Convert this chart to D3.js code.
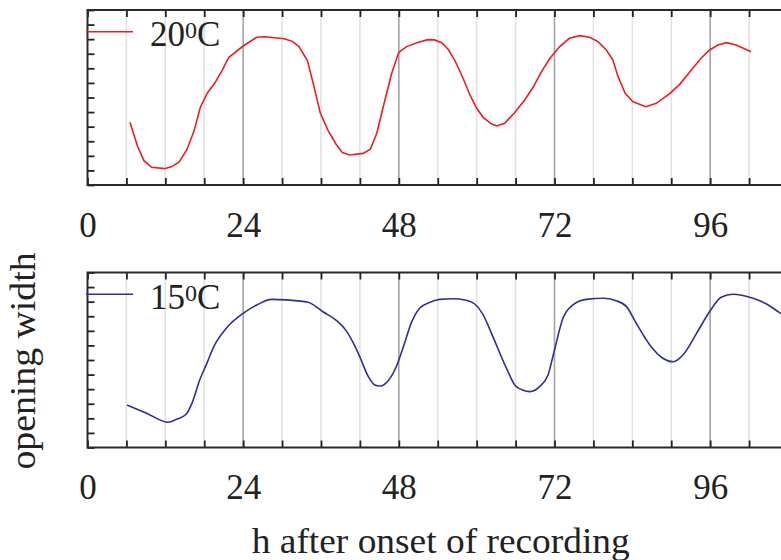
<!DOCTYPE html>
<html>
<head>
<meta charset="utf-8">
<script src="https://cdn.jsdelivr.net/npm/d3@7"></script>
<style>
  body { margin: 0; background: #fff; }
  svg { display: block; font-family: "Liberation Serif", "DejaVu Serif", serif; }
</style>
</head>
<body>
<div id="chart"></div>
<script>
// hours after onset of recording, opening width (arbitrary units, 0..12)
const hours20 = [6.55, 7.7, 8.7, 9.9, 11.9, 13.0, 14.1, 15.3, 16.4, 17.4, 18.5, 19.6, 20.8, 21.8, 24.0, 26.1, 27.3, 30.3, 31.6, 32.6, 33.9, 34.8, 35.9, 37.1, 38.3, 39.3, 40.4, 42.5, 43.6, 44.6, 45.6, 46.9, 48.0, 49.2, 51.0, 52.5, 53.5, 54.6, 55.6, 56.6, 57.9, 58.9, 60.0, 61.0, 62.3, 63.1, 64.3, 65.9, 67.4, 68.7, 70.0, 71.3, 72.8, 74.3, 75.9, 77.4, 78.7, 80.0, 81.0, 81.8, 82.9, 84.1, 86.1, 87.7, 89.8, 91.3, 93.1, 94.6, 95.9, 97.2, 98.5, 100.0, 102.3]
const width20 = [4.3, 2.67, 1.67, 1.21, 1.12, 1.26, 1.56, 2.4, 3.66, 5.33, 6.33, 6.97, 7.89, 8.76, 9.53, 10.13, 10.17, 10.03, 9.85, 9.49, 8.53, 6.97, 4.92, 3.73, 2.81, 2.22, 2.06, 2.17, 2.45, 3.55, 5.37, 7.66, 9.1, 9.49, 9.79, 9.97, 9.95, 9.76, 9.31, 8.57, 7.32, 6.24, 5.26, 4.64, 4.18, 4.05, 4.23, 4.99, 5.83, 6.7, 7.77, 8.69, 9.49, 10.06, 10.24, 10.13, 9.83, 9.26, 8.57, 7.43, 6.29, 5.71, 5.37, 5.6, 6.29, 6.9, 7.89, 8.69, 9.26, 9.6, 9.76, 9.6, 9.14]

const hours15 = [6.1, 9.1, 12.45, 13.7, 15.2, 16.1, 17.3, 18.4, 19.6, 21.4, 24.0, 26.1, 28.4, 30.7, 34.0, 36.3, 38.4, 39.9, 41.0, 42.0, 43.3, 44.3, 45.1, 46.35, 47.6, 48.7, 50.0, 51.2, 52.8, 54.3, 56.4, 58.2, 59.7, 61.0, 62.5, 64.6, 66.1, 68.2, 69.7, 71.0, 72.0, 73.3, 74.8, 76.9, 79.5, 81.5, 83.1, 84.6, 86.7, 88.7, 90.3, 91.8, 93.9, 95.9, 97.7, 99.5, 102.6, 104.7, 106.7, 108]
const width15 = [2.91, 2.35, 1.73, 1.93, 2.28, 3.03, 4.63, 5.77, 7.03, 8.18, 9.2, 9.77, 10.16, 10.12, 9.96, 9.31, 8.7, 8.0, 7.15, 6.2, 4.86, 4.29, 4.22, 4.58, 5.54, 6.91, 8.63, 9.55, 9.96, 10.16, 10.2, 10.12, 9.84, 9.09, 7.6, 5.43, 4.17, 3.83, 4.17, 4.97, 6.69, 8.86, 9.77, 10.16, 10.23, 10.07, 9.66, 8.52, 7.03, 6.12, 5.88, 6.34, 7.83, 9.31, 10.3, 10.51, 10.23, 9.84, 9.25, 8.9]

const xTickLabels = [0, 24, 48, 72, 96]
const gridHours = d3.range(6, 108, 6)

const W = 781, H = 560
const left = 87.5, right = 788
const panelH = 175

let svg = d3.select('#chart').append('svg')
    .attr('width', W)
    .attr('height', H)

let x = d3.scaleLinear().domain([0, 108]).range([left, right])

let panels = [
    { top: 10, hours: hours20, vals: width20, color: '#ed1c24', label: '20', curve: d3.curveLinear },
    { top: 272.5, hours: hours15, vals: width15, color: '#2e3192', label: '15', curve: d3.curveMonotoneX }
]

panels.forEach((p, i) => {
    let bottom = p.top + panelH
    let y = d3.scaleLinear().domain([0, 12]).range([bottom, p.top])

    let g = svg.append('g').attr('class', 'panel' + i)

    // clip so nothing leaks outside the frame
    g.append('clipPath').attr('id', 'clip' + i)
        .append('rect')
        .attr('x', left).attr('y', p.top)
        .attr('width', right - left).attr('height', panelH)

    // vertical grid, darker every 24h
    g.append('g').selectAll('line')
        .data(gridHours)
        .enter()
        .append('line')
        .attr('x1', d => x(d)).attr('x2', d => x(d))
        .attr('y1', p.top).attr('y2', bottom)
        .attr('stroke', d => d % 24 === 0 ? '#a4a4a8' : '#e2e2e2')
        .attr('stroke-width', 1.6)

    let line = d3.line()
        .x((d, k) => x(p.hours[k]))
        .y(d => y(d))
        .curve(p.curve)

    g.append('path')
        .datum(p.vals)
        .attr('clip-path', `url(#clip${i})`)
        .attr('d', line)
        .attr('fill', 'none')
        .attr('stroke', p.color)
        .attr('stroke-width', 1.6)

    // inward ticks on all 4 sides
    let tickStyle = sel => {
        sel.select('.domain').remove()
        sel.selectAll('.tick line').attr('stroke', '#222').attr('stroke-width', 1.8)
    }
    g.append('g').attr('transform', `translate(0,${bottom})`)
        .call(d3.axisBottom(x).tickValues(d3.range(0, 109, 6)).tickSize(-7).tickFormat(''))
        .call(tickStyle)
    g.append('g').attr('transform', `translate(0,${p.top})`)
        .call(d3.axisTop(x).tickValues(d3.range(0, 109, 6)).tickSize(-7).tickFormat(''))
        .call(tickStyle)
    g.append('g').attr('transform', `translate(${left},0)`)
        .call(d3.axisLeft(y).ticks(12).tickSize(-7).tickFormat(''))
        .call(tickStyle)
    g.append('g').attr('transform', `translate(${right},0)`)
        .call(d3.axisRight(y).ticks(12).tickSize(-7).tickFormat(''))
        .call(tickStyle)

    // frame
    g.append('rect')
        .attr('x', left).attr('y', p.top)
        .attr('width', right - left).attr('height', panelH)
        .attr('fill', 'none')
        .attr('stroke', '#2a2a2a')
        .attr('stroke-width', 2)

    // tick labels
    let lab = g.append('g').attr('transform', `translate(0,${bottom})`)
        .call(d3.axisBottom(x).tickValues(xTickLabels).tickSize(0).tickPadding(27).tickFormat(d3.format('d')))
    lab.select('.domain').remove()
    lab.selectAll('text')
        .attr('font-family', '"Liberation Serif", serif')
        .attr('font-size', 35)
        .attr('fill', '#222')

    // legend
    let ly = p.top + 21.7
    g.append('line')
        .attr('x1', 86).attr('x2', 133)
        .attr('y1', ly).attr('y2', ly)
        .attr('stroke', p.color)
        .attr('stroke-width', 1.6)
    let t = g.append('text')
        .attr('x', 150)
        .attr('y', p.top + 36)
        .attr('font-size', 35)
        .attr('fill', '#222')
    t.append('tspan').text(p.label)
    t.append('tspan').attr('font-size', 24).attr('dy', -8).text('0')
    t.append('tspan').attr('dy', 8).text('C')
})

// axis titles
svg.append('text')
    .attr('x', (left + right) / 2 + 3)
    .attr('y', 553)
    .attr('text-anchor', 'middle')
    .attr('font-size', 35)
    .attr('textLength', 378)
    .attr('lengthAdjust', 'spacingAndGlyphs')
    .attr('fill', '#222')
    .text('h after onset of recording')

svg.append('text')
    .attr('transform', 'translate(35,361) rotate(-90)')
    .attr('text-anchor', 'middle')
    .attr('font-size', 35)
    .attr('textLength', 217)
    .attr('lengthAdjust', 'spacingAndGlyphs')
    .attr('fill', '#222')
    .text('opening width')
</script>
</body>
</html>
